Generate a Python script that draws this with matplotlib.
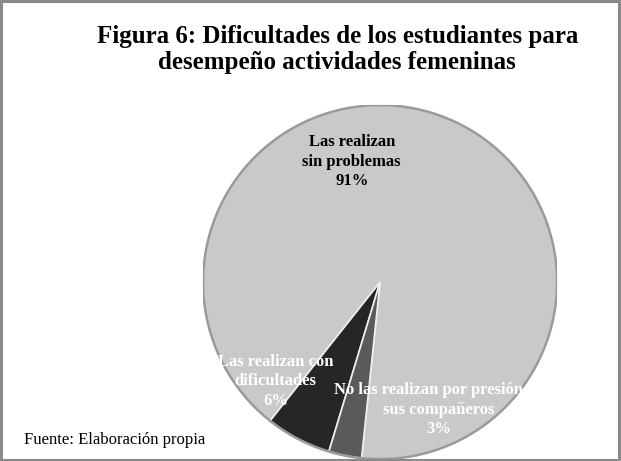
import matplotlib.pyplot as plt
from matplotlib.patches import Rectangle

etiquetas = ["Las realizan\nsin problemas", "Las realizan con\ndificultades",
             "No las realizan por presión de\nsus compañeros"]
porcentajes = [91, 6, 3]
colores = ["#c9c9c9", "#262626", "#5a5a5a"]
colores_texto = ["black", "white", "white"]
pos_texto = [(-0.16, 0.68), (-0.59, -0.56), (0.33, -0.72)]

plt.rcParams['font.family'] = ['Liberation Serif', 'DejaVu Serif']

fig = plt.figure(figsize=(6.21, 4.61), dpi=100)
ax = fig.add_axes([0.327, 0.004, 0.570, 0.768])

wedges, _ = ax.pie(porcentajes, colors=colores, startangle=264, radius=1,
                   wedgeprops=dict(edgecolor="#efefef", linewidth=1.2))
# borde sombreado del pastel
ax.add_patch(plt.Circle((0, 0), 1, fill=False, edgecolor="#9a9a9a", linewidth=1.8))
ax.set_xlim(-1, 1)
ax.set_ylim(-1, 1)
ax.set_aspect("equal")
ax.axis("off")

for lab, p, c, (x, y) in zip(etiquetas, porcentajes, colores_texto, pos_texto):
    ax.text(x, y, f"{lab}\n{p}%", ha="center", va="center", color=c,
            fontsize=12, fontweight="bold", linespacing=1.3)

fig.text(0.543, 0.893, "Figura 6: Dificultades de los estudiantes para\ndesempeño actividades femeninas",
         ha="center", va="center", fontsize=18, fontweight="bold", linespacing=1.2)
fig.text(0.038, 0.046, "Fuente: Elaboración propia", ha="left", va="center", fontsize=12)

# marco gris
fig.patches.append(Rectangle((0.002, 0.003), 0.994, 0.994, transform=fig.transFigure,
                             fill=False, edgecolor="#8a8a8a", linewidth=2.2))

plt.savefig("out.png", dpi=100)
